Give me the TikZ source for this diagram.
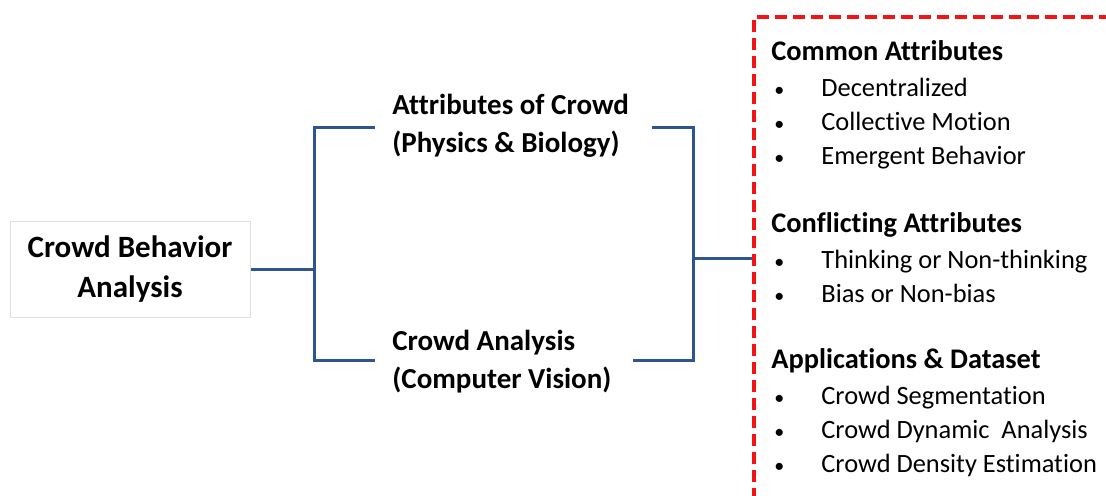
\documentclass[tikz,border=0pt]{standalone}
\usepackage{fontspec}
\setmainfont{Carlito}[Ligatures=NoCommon]
\usepackage{tikz}
\definecolor{linkblue}{RGB}{47,84,146}
\definecolor{boxred}{RGB}{240,20,20}
\definecolor{boxgray}{RGB}{224,224,224}
\tikzstyle{every node}=[inner sep=0pt]
\tikzstyle{mainbox}=[draw=boxgray,line width=0.5pt,align=center,minimum width=120pt,minimum height=48pt,font=\bfseries\fontsize{15.5}{20}\selectfont]
\tikzstyle{branch}=[anchor=west,align=left,font=\bfseries\fontsize{14.5}{19}\selectfont]
\tikzstyle{head}=[anchor=base west,font=\bfseries\fontsize{14.2}{15}\selectfont]
\tikzstyle{item}=[anchor=base west,font=\fontsize{13.2}{15}\selectfont]
\tikzstyle{link}=[draw=linkblue,line width=1.5pt]
\tikzstyle{frame}=[draw=boxred,line width=2pt,dash pattern=on 6pt off 3pt]
\newcommand{\bul}{\makebox[25pt][l]{\hspace{1.5pt}{\fontsize{10}{10}\selectfont •}}}

\begin{document}
\begin{tikzpicture}[x=0.5pt,y=-0.5pt]
    \useasboundingbox (0,0) rectangle (1106,495);
    % left box
    \node[mainbox] (cba) at (130,269) {Crowd Behavior\\Analysis};
    % branches
    \node[branch] (attr) at (392,126) {Attributes of Crowd\\(Physics \& Biology)};
    \node[branch] (cv) at (392,362) {Crowd Analysis\\(Computer Vision)};
    % bracket coordinates
    \coordinate (jl) at (314,269);
    \coordinate (attrin) at (375,127);
    \coordinate (cvin) at (375,360);
    \coordinate (attrout) at (652,127);
    \coordinate (cvout) at (633,360);
    \coordinate (jr) at (693,258);
    \coordinate (edge) at (754,258);
    \draw[link] (cba.east) -- (jl);
    \draw[link] (attrin) -| (jl) |- (cvin);
    \draw[link] (attrout) -| (jr) |- (cvout);
    \draw[link] (jr) -- (edge);
    % red dashed frame
    \coordinate (fbot) at (754,500);
    \coordinate (fright) at (1110,17);
    \draw[frame] (fbot) |- (fright);
    % frame contents
    \node[head] (common) at (771,60) {Common Attributes};
    \node[item] (c1) at (771,96) {\bul Decentralized};
    \node[item] (c2) at (771,130) {\bul Collective Motion};
    \node[item] (c3) at (771,164) {\bul Emergent Behavior};
    \node[head] (conf) at (771,232) {Conflicting Attributes};
    \node[item] (f1) at (771,268) {\bul Thinking or Non-thinking};
    \node[item] (f2) at (771,302) {\bul Bias or Non-bias};
    \node[head] (appl) at (771,368) {Applications \& Dataset};
    \node[item] (a1) at (771,404) {\bul Crowd Segmentation};
    \node[item] (a2) at (771,438) {\bul Crowd Dynamic~ Analysis};
    \node[item] (a3) at (771,472) {\bul Crowd Density Estimation};
\end{tikzpicture}
\end{document}
